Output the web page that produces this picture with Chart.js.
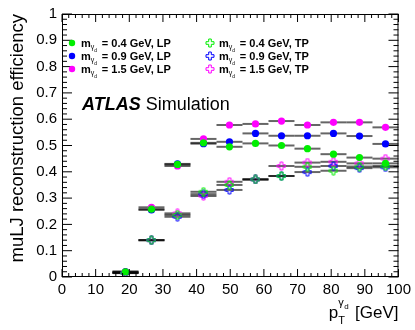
<!DOCTYPE html>
<html>
<head>
<meta charset="utf-8">
<script src="https://cdn.jsdelivr.net/npm/chart.js@4/dist/chart.umd.min.js"></script>
<style>
  html, body { margin: 0; padding: 0; background: #fff; }
  #wrap { position: relative; width: 415px; height: 330px; }
</style>
</head>
<body>
<div id="wrap"><canvas id="eff"></canvas></div>
<script>
// pT bins (GeV): 11 bins from 15 to 100
const binEdges = [15, 22.73, 30.45, 38.18, 45.91, 53.64, 61.36, 69.09, 76.82, 84.55, 92.27, 100];
const binCenters = [18.86, 26.59, 34.32, 42.05, 49.77, 57.5, 65.23, 72.95, 80.68, 88.41, 96.14];

// efficiencies
const effLP04 = [0.02, 0.258, 0.428, 0.51, 0.495, 0.508, 0.50, 0.488, 0.467, 0.454, 0.432];
const effLP09 = [0.02, 0.255, 0.43, 0.507, 0.514, 0.546, 0.537, 0.537, 0.546, 0.536, 0.506];
const effLP15 = [0.02, 0.265, 0.422, 0.525, 0.578, 0.582, 0.593, 0.578, 0.588, 0.588, 0.569];
const effTP04 = [0.015, 0.14, 0.236, 0.324, 0.35, 0.371, 0.384, 0.419, 0.404, 0.42, 0.422];
const effTP09 = [0.015, 0.14, 0.229, 0.315, 0.331, 0.371, 0.384, 0.399, 0.422, 0.414, 0.417];
const effTP15 = [0.015, 0.14, 0.242, 0.308, 0.362, 0.371, 0.422, 0.435, 0.438, 0.432, 0.45];

const xTicks = [0, 10, 20, 30, 40, 50, 60, 70, 80, 90, 100];
const yTicks = [0, 0.1, 0.2, 0.3, 0.4, 0.5, 0.6, 0.7, 0.8, 0.9, 1];

const FONT = "'Liberation Sans', Arial, Helvetica, sans-serif";
Chart.defaults.font.family = FONT;
Chart.defaults.color = '#000';

// ROOT style open cross marker
function openCross(color) {
    const c = document.createElement('canvas');
    c.width = c.height = 10;
    const g = c.getContext('2d');
    const m = 5, a = 1.3, L = 4;
    g.beginPath();
    g.moveTo(m - a, m - L); g.lineTo(m + a, m - L); g.lineTo(m + a, m - a);
    g.lineTo(m + L, m - a); g.lineTo(m + L, m + a); g.lineTo(m + a, m + a);
    g.lineTo(m + a, m + L); g.lineTo(m - a, m + L); g.lineTo(m - a, m + a);
    g.lineTo(m - L, m + a); g.lineTo(m - L, m - a); g.lineTo(m - a, m - a);
    g.closePath();
    g.strokeStyle = color;
    g.lineWidth = 1;
    g.stroke();
    return c;
}

const GREEN = '#00ee00', BLUE = '#0000ff', MAGENTA = '#ff00ff';

const series = [
    { label: '0.4', tag: 'LP', color: GREEN, values: effLP04 },
    { label: '0.9', tag: 'LP', color: BLUE, values: effLP09 },
    { label: '1.5', tag: 'LP', color: MAGENTA, values: effLP15 },
    { label: '0.4', tag: 'TP', color: GREEN, values: effTP04 },
    { label: '0.9', tag: 'TP', color: BLUE, values: effTP09 },
    { label: '1.5', tag: 'TP', color: MAGENTA, values: effTP15 }
];
series.forEach(s => { s.marker = s.tag === 'TP' ? openCross(s.color) : 'circle'; });

const datasets = series.map(s => ({
    label: `m = ${s.label} GeV, ${s.tag}`,
    data: s.values.map((v, i) => ({ x: binCenters[i], y: v })),
    pointStyle: s.marker,
    pointRadius: 3.6,
    pointBackgroundColor: s.color,
    pointBorderColor: s.color,
    pointBorderWidth: 0,
    showLine: false
}));

// horizontal bin-width error bars
const errBars = {
    id: 'errBars',
    beforeDatasetsDraw(chart) {
        const { ctx, scales: { x, y } } = chart;
        ctx.save();
        ctx.strokeStyle = 'rgba(0,0,0,0.6)';
        ctx.lineWidth = 2;
        chart.data.datasets.forEach(ds => {
            ds.data.forEach((p, i) => {
                const py = y.getPixelForValue(p.y);
                ctx.beginPath();
                ctx.moveTo(x.getPixelForValue(binEdges[i]), py);
                ctx.lineTo(x.getPixelForValue(binEdges[i + 1]), py);
                ctx.stroke();
            });
        });
        ctx.restore();
    }
};

// frame, inward ticks, legend, labels
const decor = {
    id: 'decor',
    afterDraw(chart) {
        const { ctx, chartArea: { left, right, top, bottom }, scales: { x, y } } = chart;
        ctx.save();
        ctx.strokeStyle = '#000';
        ctx.lineWidth = 1;
        ctx.strokeRect(left + 0.5, top + 0.5, right - left - 1, bottom - top - 1);

        ctx.beginPath();
        for (let k = 0; k <= 50; k++) {
            const px = x.getPixelForValue(k * 2);
            const len = k % 5 === 0 ? 8 : 4;
            ctx.moveTo(px, bottom); ctx.lineTo(px, bottom - len);
            ctx.moveTo(px, top); ctx.lineTo(px, top + len);
        }
        for (let k = 0; k <= 50; k++) {
            const py = y.getPixelForValue(k * 0.02);
            const len = k % 5 === 0 ? 10 : 5;
            ctx.moveTo(left, py); ctx.lineTo(left + len, py);
            ctx.moveTo(right, py); ctx.lineTo(right - len, py);
        }
        ctx.stroke();

        // x axis title: p_T^{gamma_d} [GeV]
        ctx.fillStyle = '#000';
        ctx.textBaseline = 'alphabetic';
        ctx.textAlign = 'left';
        ctx.font = `17px ${FONT}`;
        const unit = ' [GeV]';
        const uw = ctx.measureText(unit).width;
        const base = 318;
        const ux = right - uw;
        ctx.fillText(unit, ux, base);
        const pw = ctx.measureText('p').width;
        const px0 = ux - 12 - pw;
        ctx.fillText('p', px0, base);
        ctx.font = `11px ${FONT}`;
        ctx.fillText('T', px0 + pw, base + 6);
        ctx.fillText('\u03b3', px0 + pw, base - 12);
        ctx.font = `8px ${FONT}`;
        ctx.fillText('d', px0 + pw + 6, base - 9);

        // ATLAS Simulation
        ctx.font = `italic bold 18px ${FONT}`;
        ctx.fillText('ATLAS', 82, 110);
        const aw = ctx.measureText('ATLAS').width;
        ctx.font = `18px ${FONT}`;
        ctx.fillText('Simulation', 82 + aw + 5, 110);

        // legend
        const cols = [72, 210];
        const rows = [43, 56, 69];
        series.forEach((s, i) => {
            const cx = cols[Math.floor(i / 3)];
            const cy = rows[i % 3];
            if (s.tag === 'TP') {
                ctx.drawImage(s.marker, cx - 5, cy - 5);
            } else {
                ctx.fillStyle = s.color;
                ctx.beginPath();
                ctx.arc(cx, cy, 3.2, 0, Math.PI * 2);
                ctx.fill();
            }
            ctx.fillStyle = '#000';
            let tx = cx + 9;
            const tb = cy + 4;
            ctx.font = `bold 11px ${FONT}`;
            ctx.fillText('m', tx, tb);
            tx += ctx.measureText('m').width;
            ctx.font = `7px ${FONT}`;
            ctx.fillText('\u03b3', tx, tb + 2);
            ctx.font = `5px ${FONT}`;
            ctx.fillText('d', tx + 3.5, tb + 5);
            tx += 8;
            ctx.font = `bold 11px ${FONT}`;
            ctx.fillText(` = ${s.label} GeV, ${s.tag}`, tx, tb);
        });
        ctx.restore();
    }
};

new Chart(document.getElementById('eff'), {
    type: 'scatter',
    data: { datasets },
    options: {
        responsive: true,
        maintainAspectRatio: false,
        animation: false,
        layout: { padding: { top: 14, right: 16, left: 0, bottom: 0 } },
        plugins: { legend: { display: false }, tooltip: { enabled: false } },
        scales: {
            x: {
                type: 'linear',
                min: 0,
                max: 100,
                afterFit: s => { s.height = 53; },
                afterBuildTicks: s => { s.ticks = xTicks.map(v => ({ value: v })); },
                grid: { display: false, drawTicks: false },
                border: { display: false },
                ticks: { padding: 4, font: { size: 15 }, maxRotation: 0, color: '#000' }
            },
            y: {
                type: 'linear',
                min: 0,
                max: 1,
                afterFit: s => { s.width = 62; },
                afterBuildTicks: s => { s.ticks = yTicks.map(v => ({ value: v })); },
                grid: { display: false, drawTicks: false },
                border: { display: false },
                ticks: {
                    padding: 5,
                    font: { size: 15 },
                    color: '#000',
                    callback: v => String(+v.toFixed(1))
                },
                title: {
                    display: true,
                    text: 'muLJ reconstruction efficiency',
                    align: 'end',
                    font: { size: 18.5 },
                    padding: { top: 7, bottom: 0 }
                }
            }
        }
    },
    plugins: [errBars, decor]
});
</script>
</body>
</html>
